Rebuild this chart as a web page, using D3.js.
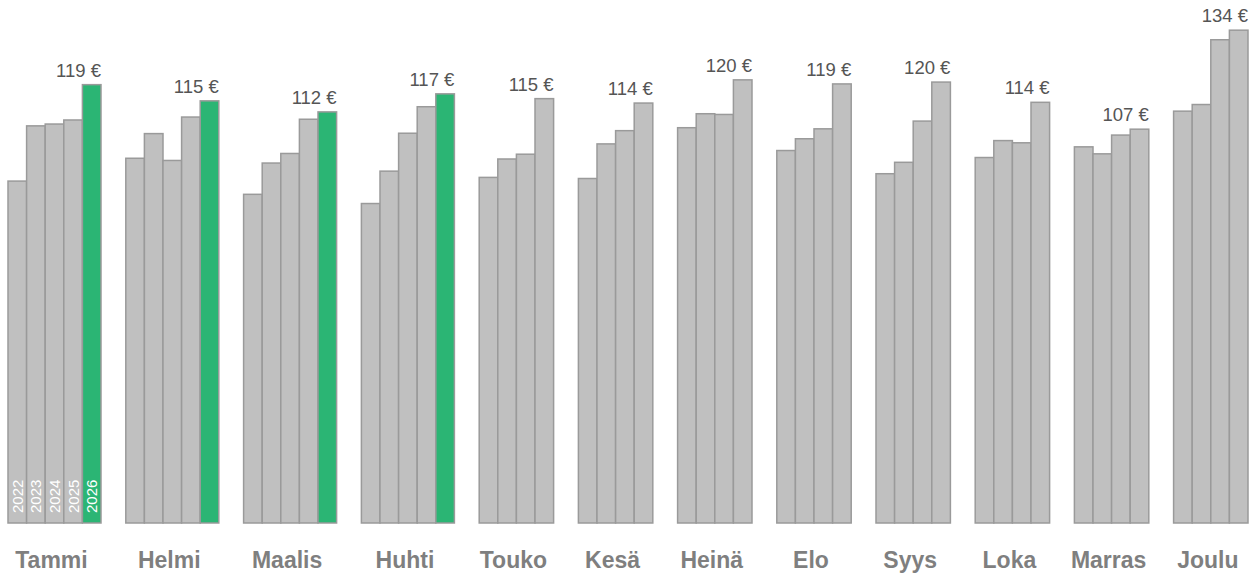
<!DOCTYPE html>
<html>
<head>
<meta charset="utf-8">
<script src="https://cdn.jsdelivr.net/npm/d3@7"></script>
<style>
  body { margin: 0; background: #fff; }
  svg { display: block; font-family: "Liberation Sans", Arial, sans-serif; }
</style>
</head>
<body>
<div id="chart"></div>
<script>
// monthly averages per year, 2026 only has the first months so far
var months = ["Tammi", "Helmi", "Maalis", "Huhti", "Touko", "Kesä", "Heinä", "Elo", "Syys", "Loka", "Marras", "Joulu"];
var years = ["2022", "2023", "2024", "2025", "2026"];
var v2022 = [92.9, 99.1, 89.3, 86.8, 93.9, 93.6, 107.4, 101.2, 94.9, 99.3, 102.2, 111.9];
var v2023 = [107.9, 105.8, 97.8, 95.6, 98.9, 103.0, 111.2, 104.4, 98.0, 103.9, 100.3, 113.7];
var v2024 = [108.4, 98.5, 100.4, 105.9, 100.2, 106.6, 111.0, 107.1, 109.2, 103.3, 105.4, 131.3];
var v2025 = [109.5, 110.3, 109.7, 113.1, 115.3, 114.1, 120.4, 119.3, 119.8, 114.3, 107.0, 133.9];
var v2026 = [119.1, 114.7, 111.7, 116.6];
var series = [v2022, v2023, v2024, v2025, v2026];

function createMonthChart(divId) {
  var width = 1258;
  var height = 576;
  var grayColor = "#c0c0c0";
  var greenColor = "#2bb574";
  var strokeColor = "#9a9a9a";
  var gapUnits = 1.333; // space between month groups, in bar widths

  d3.select("#" + divId).selectAll("*").remove();

  var svg = d3.select("#" + divId).append("svg")
    .attr("width", width)
    .attr("height", height);

  // 1. Build groups: one slot per bar, gaps between months
  var groups = [];
  var slot = 0;
  for (var m = 0; m < months.length; m++) {
    var bars = [];
    for (var s = 0; s < series.length; s++) {
      if (series[s][m] !== undefined) {
        bars.push({month: m, year: years[s], value: series[s][m], slot: slot});
        slot += 1;
      }
    }
    groups.push({name: months[m], bars: bars});
    if (m < months.length - 1) slot += gapUnits;
  }

  // 2. Scales
  var xScale = d3.scaleLinear()
    .domain([0, slot])
    .range([8, 1248]);
  var yScale = d3.scaleLinear()
    .domain([0, 142.1])
    .range([523, 0]);
  var barWidth = xScale(1) - xScale(0);

  var allBars = [];
  groups.forEach(function (g) { allBars = allBars.concat(g.bars); });

  // 3. Bars
  svg.append("g").selectAll("rect").data(allBars)
    .enter().append("rect")
    .attr("x", function (d) { return xScale(d.slot); })
    .attr("y", function (d) { return yScale(d.value); })
    .attr("width", barWidth)
    .attr("height", function (d) { return yScale(0) - yScale(d.value); })
    .attr("fill", function (d) { return d.year === "2026" ? greenColor : grayColor; })
    .attr("stroke", strokeColor)
    .attr("stroke-width", 1.5);

  // 4. Year labels inside first month
  svg.append("g").selectAll("text").data(groups[0].bars)
    .enter().append("text")
    .attr("transform", function (d) {
      return "translate(" + (xScale(d.slot) + barWidth / 2) + "," + 513 + ")rotate(-90)";
    })
    .attr("dy", "0.36em")
    .attr("fill", "#ffffff")
    .attr("font-size", 15)
    .text(function (d) { return d.year; });

  // 5. Value label over last bar of each month
  svg.append("g").selectAll("text").data(groups)
    .enter().append("text")
    .attr("x", function (g) { var b = g.bars[g.bars.length - 1]; return xScale(b.slot) + barWidth; })
    .attr("y", function (g) { var b = g.bars[g.bars.length - 1]; return yScale(b.value) - 8; })
    .attr("text-anchor", "end")
    .attr("fill", "#555555")
    .attr("font-size", 18.5)
    .text(function (g) { return Math.round(g.bars[g.bars.length - 1].value) + " €"; });

  // 6. Month names
  svg.append("g").selectAll("text").data(groups)
    .enter().append("text")
    .attr("x", function (g) {
      var first = g.bars[0].slot;
      var last = g.bars[g.bars.length - 1].slot + 1;
      return (xScale(first) + xScale(last)) / 2 - 3;
    })
    .attr("y", 568)
    .attr("text-anchor", "middle")
    .attr("fill", "#7f7f7f")
    .attr("font-weight", "bold")
    .attr("font-size", 23)
    .text(function (g) { return g.name; });
}

createMonthChart("chart");
</script>
</body>
</html>
